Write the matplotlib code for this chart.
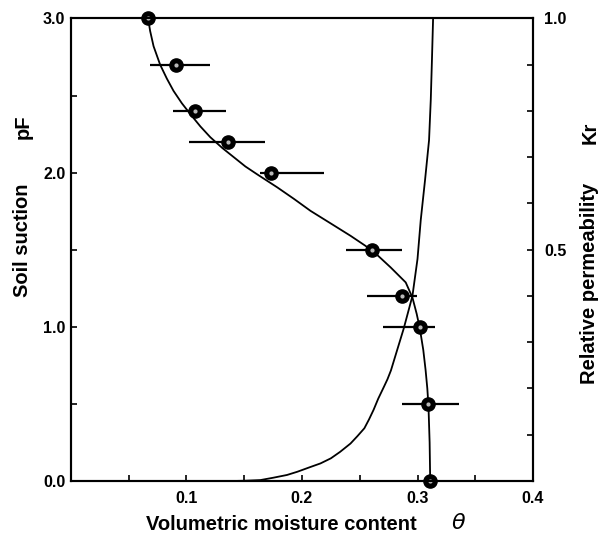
import matplotlib
matplotlib.use("Agg")
import matplotlib.pyplot as plt
import numpy as np

# measured points (volumetric moisture content vs pF)
theta = [0.0668, 0.0911, 0.107, 0.136, 0.173, 0.261, 0.287, 0.302, 0.3095, 0.311]
pF = [3.0, 2.7, 2.4, 2.2, 2.0, 1.5, 1.2, 1.0, 0.5, 0.0]
# ends of the horizontal error bars
theta_lo = [0.0668, 0.0685, 0.0879, 0.1024, 0.164, 0.2377, 0.2565, 0.270, 0.2863, 0.311]
theta_hi = [0.0668, 0.1206, 0.134, 0.168, 0.2187, 0.287, 0.2993, 0.315, 0.336, 0.311]

# retention curve
curve_theta = [0.0668, 0.0685, 0.0715, 0.0772, 0.0830, 0.0888, 0.0960, 0.1033, 0.1120,
               0.1206, 0.1310, 0.141, 0.151, 0.161, 0.1785, 0.193, 0.2074, 0.225,
               0.2421, 0.255, 0.266, 0.2768, 0.2898, 0.2956, 0.2993, 0.302,
               0.305, 0.307, 0.3085, 0.3095, 0.3105, 0.311]
curve_pF = [3.0, 2.92, 2.82, 2.70, 2.61, 2.53, 2.45, 2.38, 2.30,
            2.23, 2.16, 2.10, 2.04, 1.99, 1.905, 1.83, 1.752, 1.67,
            1.59, 1.525, 1.46, 1.385, 1.288, 1.19, 1.084, 0.99,
            0.85, 0.72, 0.60, 0.485, 0.25, 0.0]

# relative permeability curve
kr_theta = [0.140, 0.150, 0.164, 0.175, 0.187, 0.196, 0.207, 0.216, 0.225, 0.233,
            0.242, 0.248, 0.254, 0.258, 0.262, 0.266, 0.271, 0.274, 0.277, 0.282,
            0.288, 0.2956, 0.3000, 0.3028, 0.3065, 0.310, 0.3115, 0.3125, 0.3135]
kr = [0.0, 0.0005, 0.002, 0.007, 0.013, 0.020, 0.030, 0.038, 0.049, 0.063,
      0.081, 0.097, 0.114, 0.133, 0.154, 0.178, 0.204, 0.220, 0.239, 0.280,
      0.329, 0.40, 0.48, 0.564, 0.65, 0.737, 0.825, 0.91, 1.0]

x_labels = ["0.1", "0.2", "0.3", "0.4"]
y_labels = ["0.0", "1.0", "2.0", "3.0"]

plt.rcParams["font.family"] = ["Liberation Sans", "DejaVu Sans"]

fig = plt.figure(figsize=(6.02, 5.37), dpi=100)
ax = fig.add_axes([0.1179, 0.1043, 0.7675, 0.8613])
ax2 = ax.twinx()

ax.plot(curve_theta, curve_pF, color="black", lw=1.3, clip_on=False, zorder=3)
ax2.plot(kr_theta, kr, color="black", lw=1.3, clip_on=False, zorder=3)

th = np.array(theta)
xerr = [th - np.array(theta_lo), np.array(theta_hi) - th]
ax.errorbar(theta, pF, xerr=xerr, fmt="o", color="black", ms=9.5,
            mfc="black", mec="black", elinewidth=1.6, capsize=0,
            clip_on=False, zorder=5)
ax.plot(theta, pF, "o", ms=2, color="#bbbbbb", clip_on=False, zorder=6)

ax.set_xlim(0, 0.4)
ax.set_ylim(0, 3.0)
ax2.set_ylim(0, 1.0)

ax.set_xticks([0.1, 0.2, 0.3, 0.4])
ax.set_xticklabels(x_labels)
ax.set_xticks(np.arange(0.05, 0.4, 0.05), minor=True)
ax.set_yticks([0, 1, 2, 3])
ax.set_yticklabels(y_labels)
ax.set_yticks([0.5, 1.5, 2.5], minor=True)

ax2.set_yticks([0.5, 1.0])
ax2.set_yticklabels(["0.5", "1.0"])
ax2.set_yticks([0.1, 0.2, 0.3, 0.4, 0.6, 0.7, 0.8, 0.9], minor=True)

ax.tick_params(axis="x", which="both", direction="in", top=False, length=4, width=1.2, pad=7)
ax.tick_params(axis="y", which="both", direction="in", right=False, length=4, width=1.2, pad=4)
ax2.tick_params(axis="y", which="both", direction="in", length=4, width=1.2, pad=8)
for a in (ax, ax2):
    for lbl in a.get_xticklabels() + a.get_yticklabels():
        lbl.set_fontweight("bold")
        lbl.set_fontsize(11.5)
    for s in a.spines.values():
        s.set_linewidth(1.5)

fig.text(0.038, 0.553, "Soil suction", rotation=90, ha="center", va="center",
         fontsize=14.5, fontweight="bold")
fig.text(0.038, 0.7635, "pF", rotation=90, ha="center", va="center",
         fontsize=14.5, fontweight="bold")
fig.text(0.980, 0.473, "Relative permeability", rotation=90, ha="center", va="center",
         fontsize=14.5, fontweight="bold")
fig.text(0.980, 0.752, "Kr", rotation=90, ha="center", va="center",
         fontsize=14.5, fontweight="bold")
fig.text(0.467, 0.024, "Volumetric moisture content", ha="center", va="center",
         fontsize=14.5, fontweight="bold")
fig.text(0.761, 0.026, "θ", ha="center", va="center", fontsize=16, style="italic",
         family="DejaVu Sans")

fig.savefig("out.png", dpi=100)
